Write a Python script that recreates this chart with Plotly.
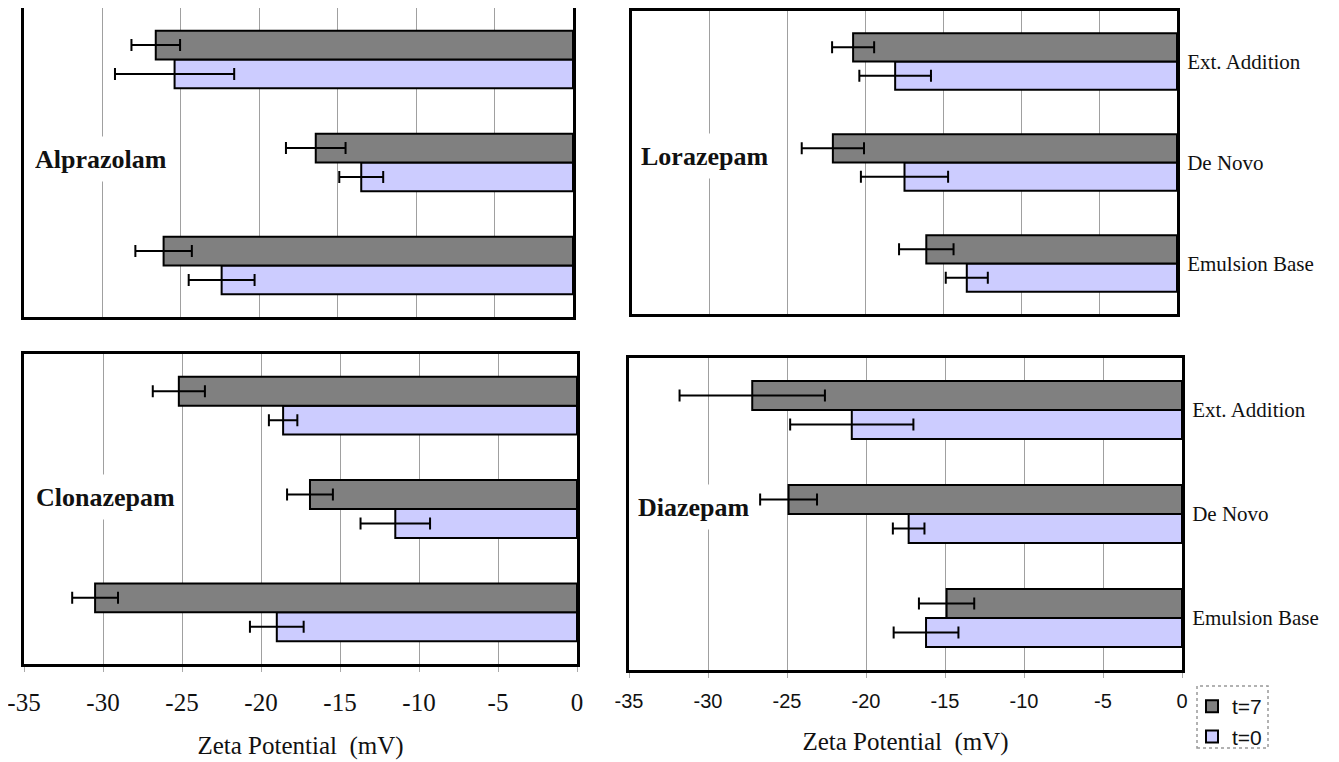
import plotly.graph_objects as go

# ---------------- data ----------------
categories = ["Ext. Addition", "De Novo", "Emulsion Base"]
series_names = ["t=7", "t=0"]
drugs = ["Alprazolam", "Lorazepam", "Clonazepam", "Diazepam"]

alprazolam_t7 = [-26.6, -16.4, -26.1]
alprazolam_t7_err = [1.55, 1.9, 1.8]
alprazolam_t0 = [-25.4, -13.5, -22.4]
alprazolam_t0_err = [3.8, 1.4, 2.1]

lorazepam_t7 = [-20.8, -22.1, -16.1]
lorazepam_t7_err = [1.35, 2.0, 1.75]
lorazepam_t0 = [-18.1, -17.5, -13.5]
lorazepam_t0_err = [2.3, 2.8, 1.35]

clonazepam_t7 = [-25.2, -16.9, -30.5]
clonazepam_t7_err = [1.65, 1.45, 1.45]
clonazepam_t0 = [-18.6, -11.5, -19.0]
clonazepam_t0_err = [0.9, 2.2, 1.7]

diazepam_t7 = [-27.2, -24.9, -14.9]
diazepam_t7_err = [4.6, 1.8, 1.75]
diazepam_t0 = [-20.9, -17.3, -16.2]
diazepam_t0_err = [3.9, 1.0, 2.05]

x_tick_values = [-35, -30, -25, -20, -15, -10, -5, 0]
x_tick_labels = ["-35", "-30", "-25", "-20", "-15", "-10", "-5", "0"]
x_title = "Zeta Potential\u00a0 (mV)"

# ---------------- styling ----------------
OX, OY = 8, 8            # page body margin of the html page
W, H = 1339 - OX, 762 - OY
C_T7 = "#808080"
C_T0 = "#CCCCFF"
SERIF = "Liberation Serif, Times New Roman, serif"
SANS = "Liberation Sans, Arial, sans-serif"


def fx(px):
    return (px - OX) / W


def fy(py):
    return 1 - (py - OY) / H


def dom_x(a, b):
    return [fx(a), fx(b)]


def dom_y(top, bottom):
    return [fy(bottom), fy(top)]


panels = [
    # drug, t7, t7err, t0, t0err, xdom, ydom, label pos (px), show categories, tick font, tick size, tick standoff
    ("Alprazolam", alprazolam_t7, alprazolam_t7_err, alprazolam_t0, alprazolam_t0_err,
     dom_x(24, 573), dom_y(8, 317), (34, 159), False, None, 20, 0),
    ("Lorazepam", lorazepam_t7, lorazepam_t7_err, lorazepam_t0, lorazepam_t0_err,
     dom_x(632, 1177), dom_y(11, 314), (640, 156), True, None, 20, 0),
    ("Clonazepam", clonazepam_t7, clonazepam_t7_err, clonazepam_t0, clonazepam_t0_err,
     dom_x(24, 577), dom_y(354, 664), (35, 497), False, SERIF, 25, 9),
    ("Diazepam", diazepam_t7, diazepam_t7_err, diazepam_t0, diazepam_t0_err,
     dom_x(629, 1182), dom_y(358, 670), (637, 507), True, SANS, 20, 6),
]

fig = go.Figure()
layout = dict()
annotations = []

for i, (drug, t7, t7e, t0, t0e, xd, yd, lab, showcat, tickfont, tsize, tstand) in enumerate(panels):
    n = "" if i == 0 else str(i + 1)
    xa, ya = "x" + n, "y" + n
    showleg = (i == 3)
    fig.add_trace(go.Bar(
        y=categories, x=t0, orientation="h", name=series_names[1],
        marker=dict(color=C_T0, line=dict(color="black", width=2)),
        error_x=dict(type="data", array=t0e, visible=True, color="black", thickness=2, width=6),
        xaxis=xa, yaxis=ya, showlegend=showleg, legendgroup="t0", legendrank=2,
    ))
    fig.add_trace(go.Bar(
        y=categories, x=t7, orientation="h", name=series_names[0],
        marker=dict(color=C_T7, line=dict(color="black", width=2)),
        error_x=dict(type="data", array=t7e, visible=True, color="black", thickness=2, width=6),
        xaxis=xa, yaxis=ya, showlegend=showleg, legendgroup="t7", legendrank=1,
    ))
    has_ticks = tickfont is not None
    layout["xaxis" + n] = dict(
        domain=xd, anchor=ya, range=[-35, 0],
        tickmode="array", tickvals=x_tick_values, ticktext=x_tick_labels,
        showgrid=True, gridcolor="#a0a0a0", gridwidth=1,
        showline=True, linecolor="black", linewidth=3, mirror=True,
        zeroline=False,
        showticklabels=has_ticks,
        ticks="outside" if has_ticks else "",
        ticklen=5, tickcolor="#aaaaaa", tickwidth=1,
        ticklabelstandoff=tstand, ticklabeloverflow="allow",
        tickfont=dict(family=tickfont or SERIF, size=tsize, color="#111"),
        title=dict(text=x_title if has_ticks else "",
                   font=dict(family=SERIF, size=25, color="#111"), standoff=22),
        automargin=False, fixedrange=True,
    )
    layout["yaxis" + n] = dict(
        domain=yd, anchor=xa, type="category",
        categoryorder="array", categoryarray=categories[::-1],
        showgrid=False, zeroline=False,
        showline=True, linecolor="black", linewidth=3, mirror=True,
        showticklabels=showcat, side="right", ticks="",
        ticklabelstandoff=3, ticklabeloverflow="allow",
        tickfont=dict(family=SERIF, size=21, color="#111"),
        automargin=False, fixedrange=True,
    )
    annotations.append(dict(
        text="<b>%s</b>" % drug, xref="paper", yref="paper",
        x=fx(lab[0]), y=fy(lab[1]), xanchor="left", yanchor="middle",
        showarrow=False, bgcolor="white", height=44, borderpad=0,
        font=dict(family=SERIF, size=26, color="#111"),
    ))

fig.update_layout(
    **layout,
    width=W, height=H,
    margin=dict(l=0, r=0, t=0, b=0),
    paper_bgcolor="white", plot_bgcolor="white",
    barmode="group", bargap=0.44, bargroupgap=0,
    annotations=annotations,
    legend=dict(x=fx(1192), y=fy(686), xanchor="left", yanchor="top",
                bgcolor="rgba(0,0,0,0)", font=dict(family=SANS, size=21, color="#111"),
                itemwidth=30, tracegroupgap=0),
    shapes=[dict(type="rect", xref="paper", yref="paper",
                 x0=fx(1197), x1=fx(1268), y0=fy(748), y1=fy(686),
                 line=dict(color="#999", width=1.5, dash="dot"))],
    showlegend=True,
)

fig.write_html("out.html")
